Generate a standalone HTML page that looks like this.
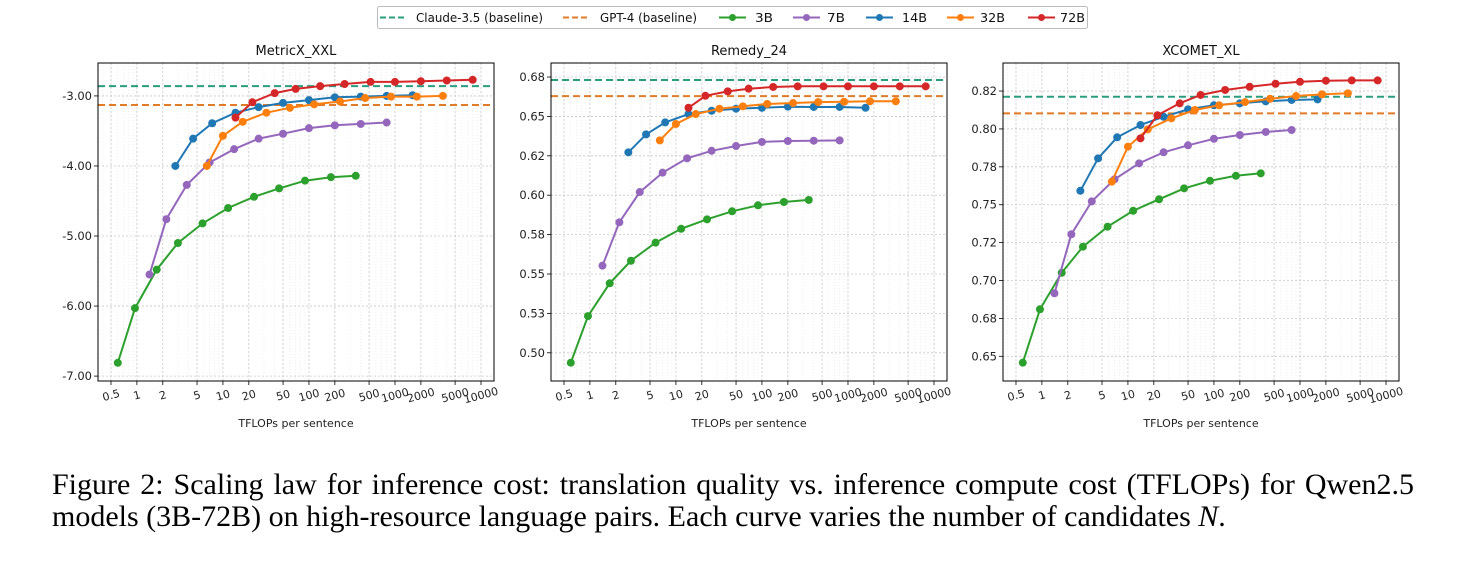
<!DOCTYPE html>
<html><head><meta charset="utf-8"><style>
body{margin:0;background:#fff;width:1466px;height:566px;overflow:hidden;position:relative;font-family:"DejaVu Sans","Liberation Sans",sans-serif}
#cap{position:absolute;left:52px;top:469px;width:1362px;font-family:"Liberation Serif",serif;font-size:30px;line-height:32px;color:#000;white-space:nowrap}
#cap .l1{text-align:justify;text-align-last:justify;white-space:normal}
</style></head><body>
<svg id="chart" width="1466" height="460" style="position:absolute;left:0;top:0"></svg>
<div id="cap"><div class="l1">Figure 2: Scaling law for inference cost: translation quality vs. inference compute cost (TFLOPs) for Qwen2.5</div><div>models (3B-72B) on high-resource language pairs. Each curve varies the number of candidates <i>N</i>.</div></div>
<script>
const seriesNames=["3B","7B","14B","32B","72B"];
const seriesColors=["#2ca02c","#9467bd","#1f77b4","#ff7f0e","#d62728"];
const x3B=[0.6,0.95,1.7,3,5.8,11.5,23,45,90,180,350];
const x7B=[1.4,2.2,3.8,7,13.5,26,50,100,200,400,800];
const x14B=[2.8,4.5,7.5,14,26,50,100,200,400,800,1600];
const x32B=[6.5,10,17,32,60,115,230,450,900,1800,3600];
const x72B=[14,22,40,70,135,260,520,1000,2000,4000,8000];
const xTicks=[0.5,1,2,5,10,20,50,100,200,500,1000,2000,5000,10000];
const xTickLabels=["0.5","1","2","5","10","20","50","100","200","500","1000","2000","5000","10000"];
// MetricX_XXL
const mx3B=[-6.81,-6.03,-5.48,-5.10,-4.82,-4.60,-4.44,-4.32,-4.21,-4.16,-4.14];
const mx7B=[-5.55,-4.76,-4.27,-3.95,-3.76,-3.61,-3.54,-3.46,-3.42,-3.40,-3.38];
const mx14B=[-4.00,-3.61,-3.39,-3.24,-3.16,-3.10,-3.06,-3.02,-3.01,-3.00,-2.99];
const mx32B=[-4.00,-3.57,-3.37,-3.24,-3.17,-3.12,-3.08,-3.03,-3.01,-3.01,-3.00];
const mx72B=[-3.31,-3.09,-2.96,-2.90,-2.86,-2.83,-2.80,-2.80,-2.79,-2.78,-2.77];
const mxBaselines=[-2.86,-3.13];
const mxTicks=[-3,-4,-5,-6,-7];
const mxTickLabels=["-3.00","-4.00","-5.00","-6.00","-7.00"];
// Remedy_24
const rm3B=[0.4937,0.5233,0.5441,0.5584,0.5699,0.5787,0.5847,0.5898,0.5936,0.5957,0.5970];
const rm7B=[0.5553,0.5828,0.6020,0.6143,0.6234,0.6282,0.6312,0.6338,0.6344,0.6346,0.6348];
const rm14B=[0.6272,0.6386,0.6462,0.6515,0.6536,0.6549,0.6555,0.6562,0.6560,0.6560,0.6555];
const rm32B=[0.6348,0.6452,0.6515,0.6549,0.6564,0.6579,0.6585,0.6591,0.6593,0.6596,0.6596];
const rm72B=[0.6555,0.6631,0.6659,0.6676,0.6687,0.6691,0.6691,0.6691,0.6691,0.6691,0.6691];
const rmBaselines=[0.6731,0.6629];
const rmTicks=[0.675,0.65,0.625,0.6,0.575,0.55,0.525,0.5];
const rmTickLabels=["0.68","0.65","0.62","0.60","0.58","0.55","0.53","0.50"];
// XCOMET_XL
const xc3B=[0.6458,0.6810,0.7051,0.7223,0.7355,0.7460,0.7536,0.7608,0.7658,0.7691,0.7707];
const xc7B=[0.6916,0.7305,0.7522,0.7668,0.7773,0.7846,0.7892,0.7935,0.7960,0.7980,0.7993];
const xc14B=[0.7592,0.7806,0.7945,0.8026,0.8080,0.8129,0.8156,0.8169,0.8182,0.8191,0.8195];
const xc32B=[0.7652,0.7883,0.7997,0.8070,0.8125,0.8156,0.8177,0.8199,0.8217,0.8228,0.8235];
const xc72B=[0.7938,0.8090,0.8169,0.8224,0.8257,0.8278,0.8298,0.8311,0.8318,0.8320,0.8320];
const xcBaselines=[0.8212,0.8103];
const xcTicks=[0.825,0.8,0.775,0.75,0.725,0.7,0.675,0.65];
const xcTickLabels=["0.82","0.80","0.78","0.75","0.72","0.70","0.68","0.65"];

const NS="http://www.w3.org/2000/svg";
const svg=document.getElementById('chart');
function mk(tag,attrs,parent){const e=document.createElementNS(NS,tag);for(const k in attrs)e.setAttribute(k,attrs[k]);(parent||svg).appendChild(e);return e;}
const xsAll=[x3B,x7B,x14B,x32B,x72B];
const panels=[
 {title:"MetricX_XXL",name:"metricx",left:98,ys:[mx3B,mx7B,mx14B,mx32B,mx72B],base:mxBaselines,ticks:mxTicks,labels:mxTickLabels,ymin:-7.07,ymax:-2.53},
 {title:"Remedy_24",name:"remedy",left:551,ys:[rm3B,rm7B,rm14B,rm32B,rm72B],base:rmBaselines,ticks:rmTicks,labels:rmTickLabels,ymin:0.4821,ymax:0.6839},
 {title:"XCOMET_XL",name:"xcomet",left:1003,ys:[xc3B,xc7B,xc14B,xc32B,xc72B],base:xcBaselines,ticks:xcTicks,labels:xcTickLabels,ymin:0.6337,ymax:0.8435}
];
const W=396,TOP=63,BOT=381;
const LXMIN=Math.log10(0.5)-0.151,LXMAX=4.151;
panels.forEach(p=>{
 const g=mk('g',{});
 
 
 const xs=v=>p.left+(Math.log10(v)-LXMIN)/(LXMAX-LXMIN)*W;
 const ys=v=>BOT-(v-p.ymin)/(p.ymax-p.ymin)*(BOT-TOP);
 for(let d=-1;d<=4;d++)for(let m=1;m<10;m++){const v=m*Math.pow(10,d);const lv=Math.log10(v);if(lv<LXMIN||lv>LXMAX)continue;
  mk('line',{x1:xs(v),x2:xs(v),y1:TOP,y2:BOT,stroke:'#e4e4e4','stroke-width':0.6,'stroke-dasharray':'1,2'},g);}
 xTicks.forEach((t,i)=>{
  const x=xs(t);
  const gl=mk('line',{x1:x,x2:x,y1:TOP,y2:BOT,stroke:'#c8c8c8','stroke-width':0.8,'stroke-dasharray':'2,2'},g);
  
  
  mk('line',{x1:x,x2:x,y1:BOT,y2:BOT+4,stroke:'#000','stroke-width':0.8},g);
  const tx=mk('text',{x:x,y:BOT+18,'font-size':11,'text-anchor':'middle',fill:'#222',transform:`rotate(-15 ${x} ${BOT+14})`},g);
  tx.textContent=xTickLabels[i];
  
  
 });
 p.ticks.forEach((t,i)=>{
  const y=ys(t);
  mk('line',{x1:p.left,x2:p.left+W,y1:y,y2:y,stroke:'#c8c8c8','stroke-width':0.8,'stroke-dasharray':'2,2'},g);
  mk('line',{x1:p.left-4,x2:p.left,y1:y,y2:y,stroke:'#000','stroke-width':0.8},g);
  const tx=mk('text',{x:p.left-6,y:y+4,'font-size':11.5,'text-anchor':'end',fill:'#222'},g);
  tx.textContent=p.labels[i];
  
  
 });
 const bc=['#2a9d7f','#e07b28'];
 p.base.forEach((b,i)=>{
  const l=mk('line',{x1:p.left,x2:p.left+W,y1:ys(b),y2:ys(b),stroke:bc[i],'stroke-width':2,'stroke-dasharray':'7,4'},g);
  
  
 });
 p.ys.forEach((arr,s)=>{
  const xsArr=xsAll[s];
  const pts=arr.map((v,i)=>xs(xsArr[i]).toFixed(1)+','+ys(v).toFixed(1)).join(' ');
  const pl=mk('polyline',{points:pts,fill:'none',stroke:seriesColors[s],'stroke-width':2},g);
  
  
  arr.forEach((v,i)=>{
   const c=mk('circle',{cx:xs(xsArr[i]),cy:ys(v),r:4,fill:seriesColors[s]},g);
   
   
  });
 });
 mk('rect',{x:p.left,y:TOP,width:W,height:BOT-TOP,fill:'none',stroke:'#000','stroke-width':1},g);
 const t=mk('text',{x:p.left+W/2,y:55,'font-size':13,'text-anchor':'middle',fill:'#111'},g);
 t.textContent=p.title;
 
 
 const xl=mk('text',{x:p.left+W/2,y:427,'font-size':11,'text-anchor':'middle',fill:'#222'},g);
 xl.textContent='TFLOPs per sentence';
 
 
});
// legend
const lg=mk('g',{});


mk('rect',{x:377.5,y:6.5,width:710,height:22,fill:'#fff',stroke:'#bbb','stroke-width':1,rx:2},lg);
const entries=[["Claude-3.5 (baseline)","#2a9d7f",true,380,416,127],["GPT-4 (baseline)","#e07b28",true,563,600,97],["3B",seriesColors[0],false,719,755,18],["7B",seriesColors[1],false,793,827,18],["14B",seriesColors[2],false,866,902,25],["32B",seriesColors[3],false,947,980,25],["72B",seriesColors[4],false,1028,1060,25]];
entries.forEach(e=>{
 const eg=mk('g',{},lg);
 
 
 mk('line',{x1:e[3],x2:e[3]+27,y1:17.5,y2:17.5,stroke:e[1],'stroke-width':2,'stroke-dasharray':e[2]?'6,3':'none'},eg);
 if(!e[2])mk('circle',{cx:e[3]+13.5,cy:17.5,r:3.5,fill:e[1]},eg);
 const t=mk('text',{x:e[4],y:22,'font-size':12,fill:'#111',textLength:e[5],lengthAdjust:'spacingAndGlyphs'},eg);
 t.textContent=e[0];
});
</script>
</body></html>
